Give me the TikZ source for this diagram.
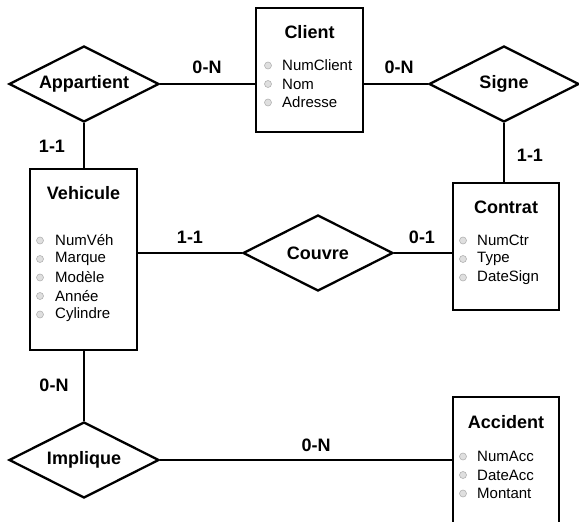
\documentclass[tikz,border=0pt]{standalone}
\usepackage{fontspec}
\setmainfont{Liberation Sans}
\usetikzlibrary{shapes.geometric,positioning}

\begin{document}
\begin{tikzpicture}[x=1pt,y=-1pt,
  entity/.style={draw,line width=2.8pt,inner sep=0pt},
  rel/.style={diamond,draw,line width=2.3pt,inner sep=0pt,shape aspect=2,
    minimum width=150pt,minimum height=76pt,font=\fontsize{18}{21}\selectfont\bfseries},
  etitle/.style={font=\fontsize{18}{21}\selectfont\bfseries},
  attr/.style={anchor=west,inner sep=0pt,font=\fontsize{15}{18}\selectfont},
  dot/.style={circle,draw=gray!60,fill=gray!25,line width=0.6pt,inner sep=0pt,minimum size=7pt},
  card/.style={font=\fontsize{18}{21}\selectfont\bfseries},
  link/.style={line width=1.4pt}]
  \useasboundingbox (0,0) rectangle (579,522);
  \clip (0,0) rectangle (579,522);
  % entities
  \node[entity,minimum width=107pt,minimum height=124pt] (client) at (309.5,70) {};
  \node[etitle] (clientT) at (309.5,32) {Client};
  \foreach \a [count=\i] in {NumClient,Nom,Adresse} {
    \node[dot] (clientD\i) at (268,47+18.5*\i) {};
    \node[attr] (clientA\i) at (282,47+18.5*\i) {\a};
  }
  \node[entity,minimum width=107pt,minimum height=181pt] (vehicule) at (83.5,259.5) {};
  \node[etitle] (vehiculeT) at (83.5,193) {Vehicule};
  \foreach \a [count=\i] in {NumVéh,Marque,Modèle,Année,Cylindre} {
    \node[dot] (vehiculeD\i) at (40,222+18.5*\i) {};
    \node[attr] (vehiculeA\i) at (55,222+18.5*\i) {\a};
  }
  \node[entity,minimum width=106pt,minimum height=127pt] (contrat) at (506,246.5) {};
  \node[etitle] (contratT) at (506,207) {Contrat};
  \foreach \a [count=\i] in {NumCtr,Type,DateSign} {
    \node[dot] (contratD\i) at (463,222+18.5*\i) {};
    \node[attr] (contratA\i) at (477,222+18.5*\i) {\a};
  }
  \node[entity,minimum width=106pt,minimum height=140pt] (accident) at (506,467) {};
  \node[etitle] (accidentT) at (506,422) {Accident};
  \foreach \a [count=\i] in {NumAcc,DateAcc,Montant} {
    \node[dot] (accidentD\i) at (463,438+18.5*\i) {};
    \node[attr] (accidentA\i) at (477,438+18.5*\i) {\a};
  }
  % relations
  \node[rel] (appartient) at (84,84) {Appartient};
  \node[rel] (signe) at (504,84) {Signe};
  \node[rel] (couvre) at (318,253) {Couvre};
  \node[rel] (implique) at (84,460) {Implique};
  % links
  \draw[link] (appartient.east) -- (appartient.east -| client.west);
  \draw[link] (signe.west) -- (signe.west -| client.east);
  \draw[link] (signe.south) -- (signe.south |- contrat.north);
  \draw[link] (appartient.south) -- (appartient.south |- vehicule.north);
  \draw[link] (couvre.west) -- (couvre.west -| vehicule.east);
  \draw[link] (couvre.east) -- (couvre.east -| contrat.west);
  \draw[link] (implique.north) -- (implique.north |- vehicule.south);
  \draw[link] (implique.east) -- (implique.east -| accident.west);
  % cardinalities
  \node[card] (c1) at (207,67) {0-N};
  \node[card] (c2) at (399,67) {0-N};
  \node[card] (c3) at (52,146) {1-1};
  \node[card] (c4) at (530,155) {1-1};
  \node[card] (c5) at (190,237) {1-1};
  \node[card] (c6) at (422,237) {0-1};
  \node[card] (c7) at (54,385) {0-N};
  \node[card] (c8) at (316,445) {0-N};
\end{tikzpicture}
\end{document}
